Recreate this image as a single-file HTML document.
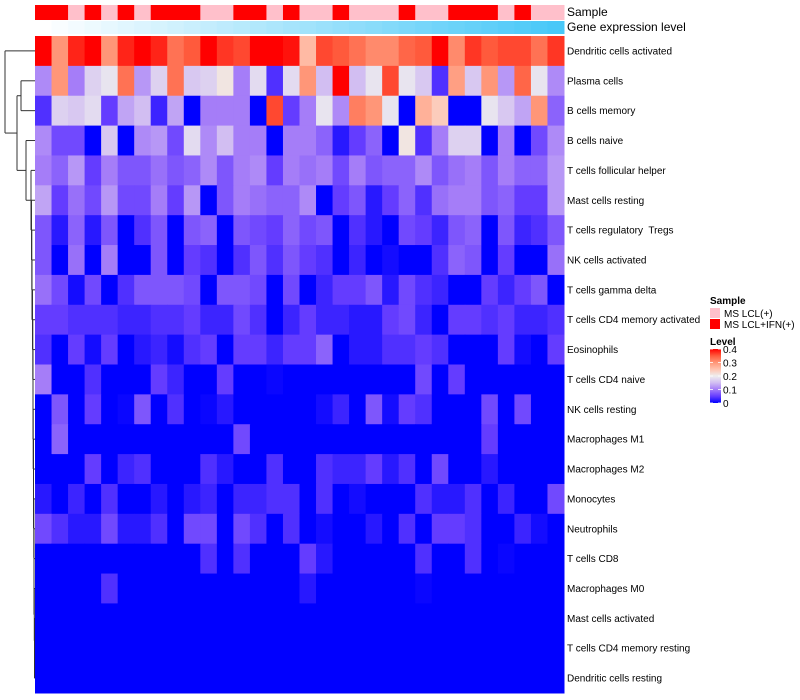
<!DOCTYPE html>
<html><head><meta charset="utf-8">
<style>
body{margin:0;background:#fff;}
svg{display:block;font-family:"Liberation Sans",Arial,sans-serif;}
text{white-space:pre;}
</style></head>
<body>
<svg id="chart" width="800" height="700"></svg>
<script>
const rowLabels=["Dendritic cells activated","Plasma cells","B cells memory","B cells naive","T cells follicular helper","Mast cells resting","T cells regulatory  Tregs","NK cells activated","T cells gamma delta","T cells CD4 memory activated","Eosinophils","T cells CD4 naive","NK cells resting","Macrophages M1","Macrophages M2","Monocytes","Neutrophils","T cells CD8","Macrophages M0","Mast cells activated","T cells CD4 memory resting","Dendritic cells resting"];
const sampleGroups=[1,1,0,1,0,1,0,1,1,1,0,0,1,1,0,1,0,0,1,0,0,0,1,0,0,1,1,1,0,1,0,0];
const legendTicks=[0,0.1,0.2,0.3,0.4];
const z=(n)=>Array(32).fill(0);
const values=[
[0.4,0.3,0.38,0.4,0.3,0.38,0.4,0.38,0.33,0.35,0.4,0.37,0.36,0.4,0.4,0.39,0.26,0.36,0.35,0.33,0.31,0.31,0.34,0.35,0.4,0.31,0.37,0.35,0.36,0.36,0.33,0.37],
[0.11,0.3,0.1,0.17,0.19,0.33,0.12,0.17,0.33,0.16,0.17,0.21,0.1,0.18,0.04,0.18,0.3,0.15,0.4,0.15,0.19,0.36,0.19,0.16,0.04,0.29,0.16,0.3,0.12,0.34,0.19,0.11],
[0.04,0.17,0.16,0.18,0.05,0.13,0.15,0.03,0.13,0,0.1,0.1,0.1,0,0.36,0.05,0.1,0.19,0.11,0.32,0.3,0.19,0,0.27,0.24,0,0,0.19,0.16,0.13,0.3,0.08],
[0.11,0.06,0.06,0,0.16,0,0.11,0.12,0.06,0.18,0.11,0.15,0.1,0.1,0,0.1,0.1,0.08,0.02,0.05,0.08,0,0.21,0.04,0.1,0.17,0.17,0,0.1,0,0.06,0.11],
[0.1,0.08,0.12,0.05,0.1,0.07,0.07,0.09,0.07,0.08,0.11,0.07,0.1,0.11,0.05,0.1,0.09,0.1,0.06,0.1,0.07,0.08,0.08,0.11,0.07,0.09,0.1,0.07,0.1,0.08,0.08,0.12],
[0.13,0.05,0.09,0.06,0.12,0.06,0.06,0.1,0.05,0.12,0,0.07,0.1,0.09,0.08,0.08,0.11,0,0.05,0.07,0.02,0.05,0.08,0.04,0.09,0.1,0.1,0.07,0.08,0.05,0.05,0.12],
[0.07,0.02,0.08,0.02,0.07,0,0.04,0.07,0,0.07,0.08,0,0.07,0.06,0.05,0.08,0.06,0.07,0,0.04,0.02,0,0.06,0.05,0.03,0.07,0.08,0,0.07,0.03,0.04,0.07],
[0.07,0,0.09,0,0.1,0,0,0.07,0,0.05,0.04,0,0.04,0.07,0.04,0.07,0.05,0.04,0,0.03,0,0.01,0,0,0.04,0.08,0.07,0,0.05,0,0,0.09],
[0.09,0.06,0.01,0.06,0,0.04,0.07,0.07,0.07,0.06,0,0.07,0.07,0.06,0,0.06,0,0.03,0.05,0.05,0.07,0.02,0.06,0.04,0.03,0,0,0.05,0.03,0.05,0.07,0],
[0.05,0.05,0.04,0.04,0.04,0.03,0.03,0.04,0.04,0.05,0.03,0.03,0.06,0.04,0,0.03,0.05,0.03,0.03,0.02,0.02,0.05,0.06,0.03,0,0.05,0.05,0.04,0.05,0.03,0.03,0.04],
[0.04,0,0.05,0.01,0.05,0,0.02,0.03,0.01,0.04,0.05,0,0.05,0.05,0.03,0.05,0.05,0.08,0,0.02,0.02,0.04,0.04,0.05,0.04,0,0,0,0.05,0.01,0,0.05],
[0.1,0,0,0.04,0,0,0,0.05,0.03,0,0,0.05,0,0,0.005,0,0,0,0,0,0,0,0,0.06,0,0.05,0,0,0,0,0,0],
[0,0.07,0,0.05,0,0.005,0.07,0,0.04,0,0.005,0.02,0,0,0,0,0,0.01,0.03,0,0.07,0.01,0.05,0.04,0,0,0,0.06,0,0.06,0,0],
[0,0.08,0,0,0,0,0,0,0,0,0,0,0.06,0,0,0,0,0,0,0,0,0,0,0,0,0,0,0.05,0,0,0,0],
[0,0,0,0.05,0,0.03,0.04,0,0,0,0.04,0.02,0,0,0.04,0,0,0.04,0.03,0.03,0.05,0.02,0.04,0,0.06,0,0,0.02,0,0,0,0],
[0.02,0,0.03,0,0.04,0,0,0.02,0,0.02,0.03,0,0.03,0.03,0.04,0.04,0,0.04,0,0.01,0,0,0,0.04,0.02,0.02,0.04,0,0.03,0,0,0.06],
[0.06,0.04,0.02,0.02,0.06,0.02,0.02,0.04,0,0.06,0.06,0,0.06,0.04,0,0.04,0,0.01,0,0,0.02,0,0.04,0,0.05,0.05,0.04,0,0,0.03,0.01,0],
[0,0,0,0,0,0,0,0,0,0,0.04,0,0.04,0,0,0,0.05,0.02,0,0,0,0,0,0.04,0,0,0.04,0,0.005,0,0,0],
[0,0,0,0,0.04,0,0,0,0,0,0,0,0,0,0,0,0.02,0,0,0,0,0,0,0.005,0,0,0,0,0,0,0,0],
z(),z(),z()
];
const NS="http://www.w3.org/2000/svg";
const svg=document.getElementById('chart');
function mk(t,a,p){const e=document.createElementNS(NS,t);for(const k in a)e.setAttribute(k,a[k]);(p||svg).appendChild(e);return e;}
const X0=35,X1=564,Y0=36,Y1=693;
const nC=32,nR=rowLabels.length;
const cw=(X1-X0)/nC,rh=(Y1-Y0)/nR;
const xOf=i=>X0+i*cw, yOf=r=>Y0+r*rh;
const stops=[[0,[0,0,255]],[0.05,[100,60,255]],[0.1,[165,125,248]],[0.15,[210,190,242]],[0.2,[238,238,238]],[0.25,[255,195,175]],[0.3,[255,150,120]],[0.35,[255,90,60]],[0.4,[255,0,0]]];
function col(v){v=Math.max(0,Math.min(0.4,v));for(let i=1;i<stops.length;i++){if(v<=stops[i][0]){const a=stops[i-1],b=stops[i],t=(v-a[0])/(b[0]-a[0]);return 'rgb('+a[1].map((c,k)=>Math.round(c+(b[1][k]-c)*t)).join(',')+')';}}return 'red';}
sampleGroups.forEach((g,i)=>{
 const r=mk('rect',{x:xOf(i),y:5,width:cw+0.5,height:15,fill:g?'#ff0000':'#ffc0cb'});
 
 
 const t=i/(nC-1);
 const g2=mk('rect',{x:xOf(i),y:21,width:cw+0.5,height:13,fill:'rgb('+Math.round(255-(255-72)*t)+','+Math.round(255-(255-200)*t)+','+Math.round(255-(255-248)*t)+')'});
 
 
});
let t1=mk('text',{x:567,y:16,'font-size':12});t1.textContent='Sample';

let t2=mk('text',{x:567,y:31,'font-size':12});t2.textContent='Gene expression level';

values.forEach((row,r)=>{row.forEach((v,c)=>{
 const e=mk('rect',{x:xOf(c),y:yOf(r),width:cw+0.5,height:rh+0.5,fill:col(v)});
 
 
});
 const l=mk('text',{x:567,y:yOf(r)+rh/2+3.5,'font-size':10});l.textContent=rowLabels[r];
 
 
});
const dg=mk('g',{stroke:'#333','stroke-width':1,fill:'none'});

const cy=r=>yOf(r)+rh/2;
function seg(x1,y1,x2,y2){mk('line',{x1,y1,x2,y2},dg);}
function node(x,ya,xa,yb,xb){seg(x,ya,x,yb);seg(x,ya,xa,ya);seg(x,yb,xb,yb);}
let prevY=cy(21),prevX=X0;
const xs=[34.5,34.5,34.3,34,34,33.8,33.5,33.5,33.2,33,33,32.8,32.5,32,31.8,31.5,31];
for(let r=20,k=0;r>=4;r--,k++){const x=xs[k]||31;const y=cy(r);node(x,y,X0,prevY,prevX);prevY=(y+prevY)/2;prevX=x;}
const cTop=prevY,cX=prevX;
node(26,cy(3),X0,cTop,cX); const bY=(cy(3)+cTop)/2;
node(21,cy(1),X0,cy(2),X0); const aY=(cy(1)+cy(2))/2;
node(17,aY,21,bY,26); const restY=(aY+bY)/2;
node(5,cy(0),X0,restY,17);
const lg=mk('g',{});
let s=mk('text',{x:710,y:304,'font-size':10,'font-weight':'bold'},lg);s.textContent='Sample';
const ents=[['#ffc0cb','MS LCL(+)'],['#ff0000','MS LCL+IFN(+)']];
ents.forEach((e,i)=>{const gg=mk('g',{},lg);
 mk('rect',{x:710,y:308+i*11,width:10,height:10,fill:e[0]},gg);
 const t=mk('text',{x:724,y:317+i*11,'font-size':10},gg);t.textContent=e[1];});
let lv=mk('text',{x:710,y:345,'font-size':10,'font-weight':'bold'},lg);lv.textContent='Level';
const defs=mk('defs',{});const gr=mk('linearGradient',{id:'lvl',x1:0,y1:1,x2:0,y2:0},defs);
stops.forEach(s=>mk('stop',{offset:s[0]/0.4,'stop-color':col(s[0])},gr));
const barTop=349,barBot=403;
const cb=mk('rect',{x:710,y:barTop,width:11,height:barBot-barTop,fill:'url(#lvl)'},lg);

legendTicks.forEach(v=>{const y=barBot-(v/0.4)*(barBot-barTop);
 mk('line',{x1:710,x2:713,y1:y,y2:y,stroke:'#fff','stroke-width':0.8},lg);
 mk('line',{x1:718,x2:721,y1:y,y2:y,stroke:'#fff','stroke-width':0.8},lg);
 const t=mk('text',{x:723,y:y+4,'font-size':10},lg);t.textContent=String(v);
 });
</script>
</body></html>
